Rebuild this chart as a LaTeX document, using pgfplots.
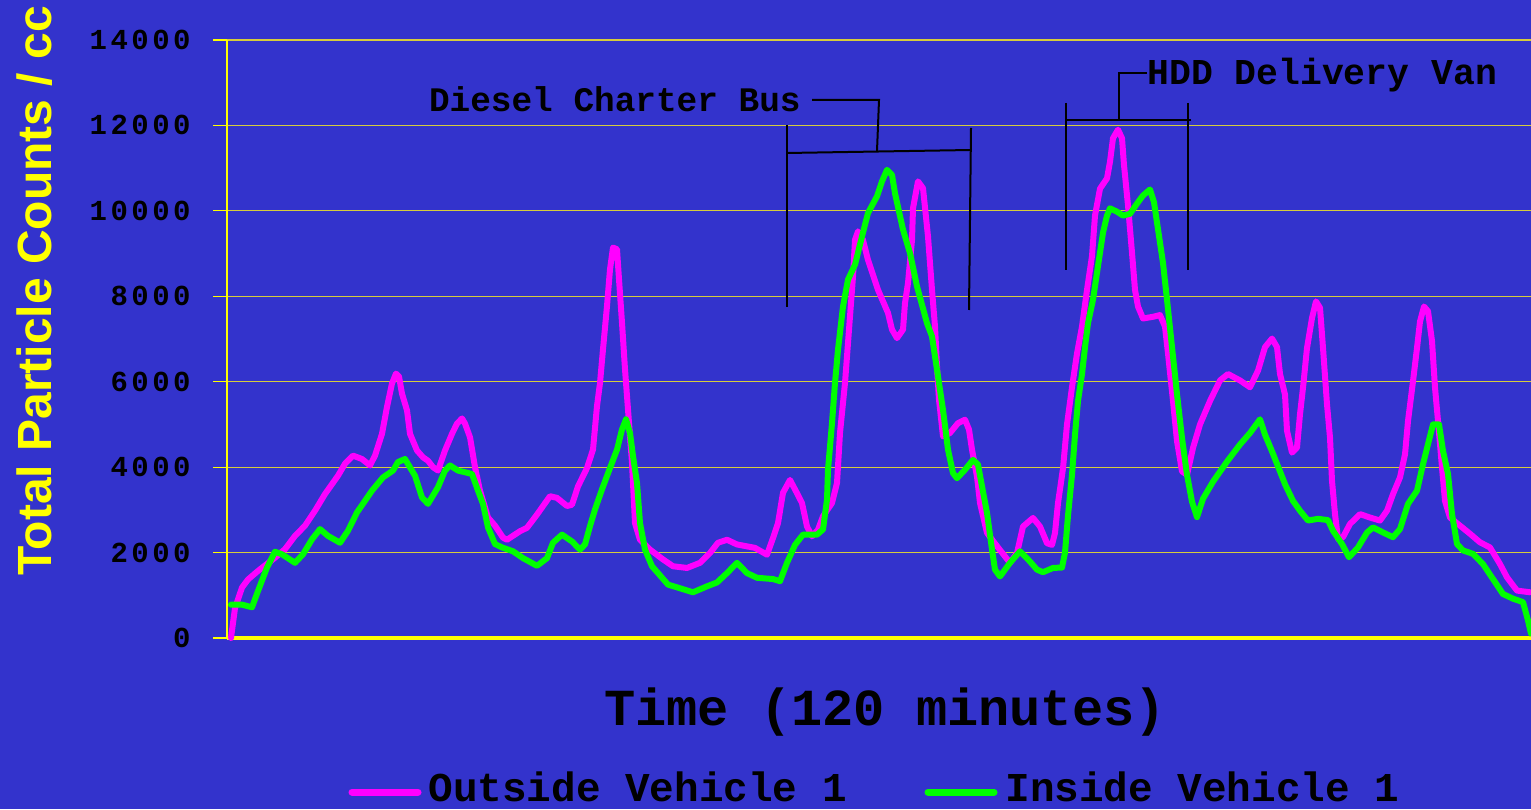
\documentclass[border=0pt]{standalone}
\usepackage{pgfplots}
\usepackage{pgfplotstable}
\pgfplotsset{compat=1.18}
\usepackage{fontspec}
\setmainfont{Liberation Mono}
\newfontfamily\sansb{Liberation Sans}
\newfontfamily\courls[LetterSpace=12]{Liberation Mono}

\definecolor{bg}{RGB}{51,51,204}
\definecolor{gridc}{RGB}{214,204,60}
\definecolor{outc}{RGB}{255,0,255}
\definecolor{inc}{RGB}{0,255,0}
\definecolor{axc}{RGB}{255,255,0}

% time index (0..1304 over the 120 minutes), particle counts per cc
\pgfplotstableread{
t count
4 0
8 700
15 1180
21 1370
31 1570
48 1880
58 2080
68 2390
78 2630
88 2980
98 3370
111 3800
118 4080
126 4270
135 4190
143 4040
148 4270
155 4780
160 5410
165 5960
169 6190
172 6120
175 5720
180 5330
183 4780
190 4390
196 4230
201 4150
206 4000
211 3920
218 4390
225 4780
230 5020
235 5140
238 5020
243 4700
248 4000
253 3450
261 2820
268 2630
276 2350
280 2300
293 2500
300 2580
310 2890
323 3320
330 3280
340 3090
345 3120
351 3550
360 3980
366 4410
370 5430
373 5970
376 6760
380 7770
383 8630
386 9140
390 9100
392 8400
395 7380
398 6290
401 5350
405 4100
408 2690
413 2300
423 2070
436 1840
446 1680
460 1640
473 1760
483 1990
491 2230
500 2300
510 2190
528 2110
540 1950
546 2340
551 2690
556 3400
563 3700
570 3390
575 3160
580 2610
585 2380
591 2535
596 2850
605 3160
610 3630
613 4800
618 5970
623 7530
626 8460
628 9320
631 9520
636 9320
641 8850
651 8150
661 7610
665 7220
670 7020
676 7220
678 7840
681 8310
685 9320
686 10060
691 10690
696 10530
701 9400
705 8150
708 7290
710 6360
712 5580
716 4720
723 4800
731 5030
738 5110
742 4880
745 4410
750 3780
753 3160
760 2460
770 2150
783 1760
790 1990
796 2610
806 2810
813 2610
820 2220
825 2180
828 2460
831 3160
836 3970
840 5000
845 5870
850 6660
855 7290
860 8150
865 8940
868 9890
873 10520
880 10760
883 11150
886 11700
891 11900
895 11700
897 11070
901 10130
905 9020
908 8150
911 7760
916 7480
926 7520
933 7560
938 7290
941 6660
946 5550
950 4610
955 3900
960 3820
966 4450
973 5000
983 5550
993 6030
1001 6180
1013 6030
1023 5870
1031 6260
1038 6810
1045 7010
1050 6810
1053 6180
1058 5700
1060 4850
1065 4340
1070 4460
1073 5240
1076 5860
1080 6790
1085 7490
1089 7880
1093 7730
1096 6790
1100 5470
1103 4690
1105 3680
1108 2900
1111 2320
1116 2360
1123 2670
1133 2900
1143 2820
1153 2750
1160 2980
1166 3370
1173 3760
1178 4300
1181 5080
1186 6010
1190 6790
1193 7410
1197 7760
1201 7650
1205 6950
1208 5860
1211 5080
1215 3990
1218 3210
1223 2820
1233 2630
1243 2440
1253 2240
1263 2120
1273 1730
1280 1420
1290 1110
1303 1070
}\outside

\pgfplotstableread{
t count
4 780
15 780
25 720
31 1100
40 1650
48 2020
55 1960
68 1760
76 1960
85 2310
93 2550
101 2390
113 2230
121 2510
130 2940
145 3450
156 3760
166 3920
171 4120
178 4190
188 3800
195 3290
201 3140
211 3530
218 3920
223 4040
231 3920
245 3840
251 3450
256 3140
261 2590
268 2200
275 2120
286 2030
296 1870
310 1690
320 1870
326 2230
335 2420
345 2260
353 2070
358 2190
363 2620
368 3010
375 3480
383 3980
390 4410
395 4880
399 5120
403 4800
406 4260
410 3630
413 2690
418 2070
425 1680
431 1520
441 1250
455 1150
466 1070
480 1210
490 1300
500 1520
510 1760
520 1520
530 1410
546 1380
553 1330
560 1760
568 2180
576 2420
590 2420
596 2540
600 3240
601 3940
605 5030
608 5970
611 6750
616 7760
621 8390
628 8740
635 9400
641 9950
650 10340
655 10690
660 10960
665 10840
668 10410
676 9560
683 9010
690 8230
700 7370
705 7060
710 6280
716 5340
721 4410
726 3860
730 3740
738 3940
746 4170
751 4060
755 3550
760 2930
765 2070
768 1600
773 1440
783 1760
793 2030
803 1790
810 1600
816 1540
826 1640
835 1650
838 2000
841 2870
845 3820
848 4760
851 5550
855 6180
858 6810
861 7370
866 7920
871 8710
876 9490
880 9890
883 10060
890 9980
896 9890
903 9930
910 10170
916 10360
923 10500
927 10200
931 9570
936 8780
940 7920
945 6810
950 5710
955 4680
960 3820
965 3190
970 2830
976 3260
986 3660
1000 4130
1013 4530
1023 4800
1033 5120
1038 4760
1045 4370
1053 3900
1058 3600
1066 3210
1073 2980
1081 2750
1091 2790
1101 2760
1106 2510
1115 2200
1122 1890
1131 2120
1140 2470
1146 2590
1156 2470
1166 2360
1173 2550
1181 3140
1190 3450
1196 4070
1201 4540
1206 5000
1212 5000
1216 4380
1221 3840
1225 2900
1230 2200
1236 2050
1246 1970
1256 1730
1266 1380
1276 1030
1286 920
1296 840
1301 410
1304 100
}\inside

\begin{document}
\begin{tikzpicture}
\fill[bg] (0,0) rectangle (765.5pt,404.5pt);
\path[use as bounding box] (0,0) rectangle (765.5pt,404.5pt);
\begin{axis}[
    at={(113.5pt,85.5pt)}, anchor=south west,
    scale only axis, width=652pt, height=299pt,
    xmin=0, xmax=1304, ymin=0, ymax=14000,
    axis x line=bottom, axis y line=left,
    axis line style={-},
    x axis line style={axc, line width=2pt},
    y axis line style={axc, line width=1.2pt},
    xtick=\empty,
    ytick={0,2000,...,14000},
    yticklabels={0,2000,4000,6000,8000,10000,12000,14000},
    scaled y ticks=false,
    ymajorgrids,
    grid style={gridc, line width=0.6pt},
    tick align=outside, major tick length=7pt,
    tick style={axc, line width=0.6pt},
    yticklabel style={font=\courls\bfseries\fontsize{14.5}{14.5}\selectfont,
        text=black, anchor=east, inner sep=0pt, xshift=-11pt},
    clip=false,
    every axis plot/.append style={line width=3pt, line join=round, line cap=round},
]
\addplot[outc] table[x=t, y=count] {\outside};
\addplot[inc] table[x=t, y=count] {\inside};
\end{axis}

\begin{scope}[x=0.5pt, y=-0.5pt, shift={(0pt,404.5pt)}]
  % bracket annotations
  \draw[black, line width=1pt] (787,125) -- (787,307);
  \draw[black, line width=1pt] (971,128) -- (969,310);
  \draw[black, line width=1pt] (787,153) -- (971,150);
  \draw[black, line width=1pt] (877,151) -- (879,100) -- (812,100);
  \node[anchor=base east, inner sep=0pt, font=\bfseries\fontsize{17.2}{17.2}\selectfont] at (801,112) {Diesel Charter Bus};

  \draw[black, line width=1pt] (1066,103) -- (1066,270);
  \draw[black, line width=1pt] (1188,103) -- (1188,270);
  \draw[black, line width=1pt] (1066,120) -- (1191,120);
  \draw[black, line width=1pt] (1119,120) -- (1119,73) -- (1147,73);
  \node[anchor=base west, inner sep=0pt, font=\bfseries\fontsize{18.2}{18.2}\selectfont] at (1147,85) {HDD Delivery Van};

  % axis titles
  \node[anchor=base, inner sep=0pt, font=\bfseries\fontsize{26}{26}\selectfont] at (885,725) {Time (120 minutes)};
  \node[rotate=90, inner sep=0pt, text=axc, font=\sansb\bfseries\fontsize{24}{24}\selectfont] at (35,291) {Total Particle Counts / cc};

  % legend
  \draw[outc, line width=3.5pt, line cap=round] (352,792) -- (418,792);
  \node[anchor=base west, inner sep=0pt, font=\bfseries\fontsize{20.5}{20.5}\selectfont] at (428,801) {Outside Vehicle 1};
  \draw[inc, line width=3.5pt, line cap=round] (928,792) -- (994,792);
  \node[anchor=base west, inner sep=0pt, font=\bfseries\fontsize{20.5}{20.5}\selectfont] at (1005,801) {Inside Vehicle 1};
\end{scope}
\end{tikzpicture}
\end{document}
